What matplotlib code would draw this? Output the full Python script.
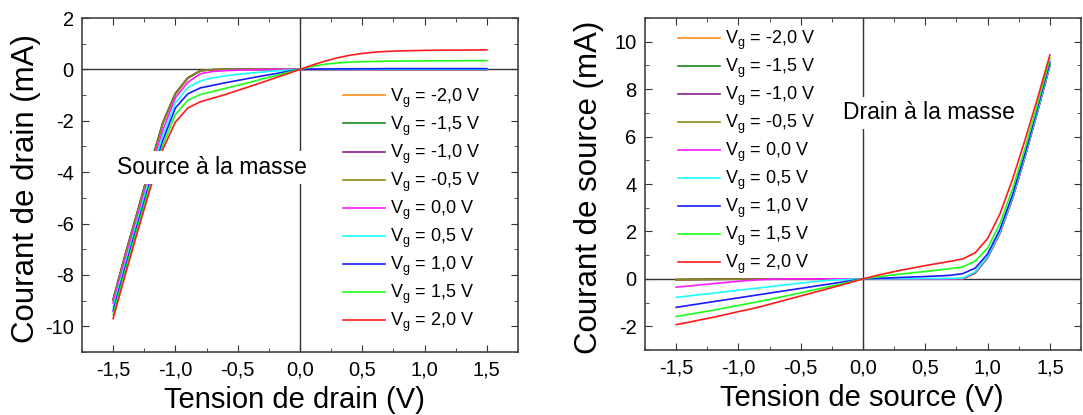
import matplotlib
matplotlib.use('Agg')
import matplotlib.pyplot as plt
from matplotlib.ticker import MultipleLocator, FuncFormatter

plt.rcParams['font.family'] = ['Liberation Sans', 'DejaVu Sans']
plt.rcParams['mathtext.default'] = 'regular'
plt.rcParams['axes.unicode_minus'] = False

tension = [-1.5, -1.4, -1.3, -1.2, -1.1, -1.0, -0.9, -0.8, -0.7, -0.6, -0.5, -0.4, -0.3, -0.2, -0.1, 0.0,
           0.1, 0.2, 0.3, 0.4, 0.5, 0.6, 0.7, 0.8, 0.9, 1.0, 1.1, 1.2, 1.3, 1.4, 1.5]

etiquettes = ['V$_g$ = -2,0 V', 'V$_g$ = -1,5 V', 'V$_g$ = -1,0 V', 'V$_g$ = -0,5 V', 'V$_g$ = 0,0 V',
              'V$_g$ = 0,5 V', 'V$_g$ = 1,0 V', 'V$_g$ = 1,5 V', 'V$_g$ = 2,0 V']
couleurs = ['#FF8A1E', '#1A8A1A', '#8A1A8A', '#8A8A1A', '#FF1AFF', '#1AFFFF', '#1A1AFF', '#1AFF1A', '#FF1A1A']

zeros15 = [0.0] * 15

# Source a la masse : courant de drain (mA)
drain_m20 = [-8.95, -7.15, -5.45, -3.7, -2.05, -0.92, -0.32, -0.05, -0.01, 0, 0, 0, 0, 0, 0, 0] + zeros15
drain_m15 = [-8.95, -7.15, -5.45, -3.7, -2.05, -0.93, -0.33, -0.05, -0.01, 0, 0, 0, 0, 0, 0, 0] + zeros15
drain_m10 = [-8.97, -7.17, -5.47, -3.72, -2.08, -0.95, -0.34, -0.05, -0.01, 0, 0, 0, 0, 0, 0, 0] + zeros15
drain_m05 = [-9.0, -7.2, -5.5, -3.75, -2.1, -0.97, -0.35, -0.06, -0.01, 0, 0, 0, 0, 0, 0, 0] + zeros15
drain_p00 = [-9.1, -7.35, -5.65, -3.95, -2.35, -1.1, -0.5, -0.17, -0.08, -0.05, -0.03, -0.02, -0.01, 0, 0, 0] + zeros15
drain_p05 = [-9.25, -7.5, -5.8, -4.1, -2.55, -1.3, -0.7, -0.45, -0.33, -0.25, -0.19, -0.14, -0.1, -0.06, -0.03, 0,
             0.003, 0.005, 0.005, 0.006, 0.006, 0.007, 0.007, 0.008, 0.008, 0.008, 0.008, 0.008, 0.008, 0.008, 0.008]
drain_p10 = [-9.4, -7.65, -5.95, -4.3, -2.75, -1.5, -0.95, -0.72, -0.62, -0.52, -0.43, -0.34, -0.25, -0.17, -0.08, 0,
             0.01, 0.015, 0.02, 0.02, 0.025, 0.025, 0.03, 0.03, 0.03, 0.03, 0.03, 0.03, 0.03, 0.03, 0.03]
drain_p15 = [-9.55, -7.8, -6.1, -4.45, -2.95, -1.75, -1.2, -0.98, -0.86, -0.74, -0.62, -0.5, -0.37, -0.25, -0.12, 0,
             0.12, 0.2, 0.25, 0.28, 0.3, 0.31, 0.32, 0.325, 0.33, 0.33, 0.335, 0.335, 0.34, 0.34, 0.34]
drain_p20 = [-9.7, -7.95, -6.25, -4.6, -3.1, -2.05, -1.5, -1.26, -1.12, -0.98, -0.82, -0.66, -0.5, -0.33, -0.17, 0,
             0.17, 0.32, 0.45, 0.55, 0.62, 0.67, 0.7, 0.72, 0.73, 0.74, 0.745, 0.75, 0.75, 0.755, 0.76]

# Drain a la masse : courant de source (mA)
pos_bas = [0, 0, 0, 0, 0, 0, 0, 0, 0.25, 0.9, 1.95, 3.4, 5.15, 7.05, 9.0]
source_m20 = [-0.03, -0.025, -0.02, -0.015, -0.01, -0.008, -0.005, -0.003, -0.002, -0.001, 0, 0, 0, 0, 0, 0] + pos_bas
source_m15 = [-0.03, -0.025, -0.02, -0.015, -0.01, -0.008, -0.005, -0.003, -0.002, -0.001, 0, 0, 0, 0, 0, 0] + pos_bas
source_m10 = [-0.035, -0.03, -0.025, -0.02, -0.015, -0.01, -0.006, -0.004, -0.002, -0.001, 0, 0, 0, 0, 0, 0] + pos_bas
source_m05 = [-0.04, -0.035, -0.03, -0.025, -0.02, -0.012, -0.008, -0.005, -0.003, -0.001, 0, 0, 0, 0, 0, 0] + pos_bas
source_p00 = [-0.35, -0.3, -0.25, -0.2, -0.15, -0.1, -0.06, -0.03, -0.01, 0, 0, 0, 0, 0, 0, 0,
              0, 0, 0, 0, 0, 0, 0, 0.01, 0.28, 0.93, 1.98, 3.43, 5.18, 7.08, 9.03]
source_p05 = [-0.78, -0.72, -0.66, -0.6, -0.54, -0.48, -0.42, -0.36, -0.3, -0.24, -0.18, -0.12, -0.07, -0.04, -0.02, 0,
              0.005, 0.01, 0.01, 0.01, 0.015, 0.015, 0.02, 0.03, 0.3, 0.95, 2.0, 3.45, 5.2, 7.1, 9.05]
source_p10 = [-1.2, -1.12, -1.04, -0.96, -0.88, -0.8, -0.72, -0.64, -0.56, -0.48, -0.4, -0.32, -0.24, -0.16, -0.08, 0,
              0.02, 0.04, 0.06, 0.08, 0.1, 0.12, 0.15, 0.22, 0.45, 1.05, 2.1, 3.55, 5.3, 7.2, 9.15]
source_p15 = [-1.59, -1.5, -1.41, -1.32, -1.22, -1.12, -1.02, -0.92, -0.81, -0.7, -0.59, -0.47, -0.36, -0.24, -0.12, 0,
              0.07, 0.14, 0.2, 0.26, 0.31, 0.37, 0.43, 0.5, 0.75, 1.3, 2.35, 3.8, 5.5, 7.35, 9.3]
source_p20 = [-1.93, -1.83, -1.72, -1.62, -1.5, -1.38, -1.27, -1.14, -1.0, -0.86, -0.72, -0.58, -0.44, -0.3, -0.15, 0,
              0.13, 0.25, 0.36, 0.46, 0.56, 0.65, 0.74, 0.84, 1.1, 1.7, 2.75, 4.2, 5.85, 7.6, 9.45]

courbes_drain = [drain_m20, drain_m15, drain_m10, drain_m05, drain_p00, drain_p05, drain_p10, drain_p15, drain_p20]
courbes_source = [source_m20, source_m15, source_m10, source_m05, source_p00, source_p05, source_p10, source_p15, source_p20]

fig = plt.figure(figsize=(10.83, 4.15), dpi=100)
ax1 = fig.add_axes([0.0757, 0.1518, 0.4026, 0.8048])
ax2 = fig.add_axes([0.5956, 0.1566, 0.4026, 0.8000])

virgule_x = FuncFormatter(lambda v, p: f'{v:.1f}'.replace('.', ','))
entier_y = FuncFormatter(lambda v, p: f'{v:.0f}')


def habiller(ax, courbes, ylim, xlabel, ylabel, texte, pos_texte, pos_legende, xlab_x, ylab_y):
    for y, c, lab in zip(courbes, couleurs, etiquettes):
        ax.plot(tension, y, color=c, lw=1.2, label=lab, zorder=2)
    ax.axhline(0, color='#333333', lw=1, zorder=1)
    ax.axvline(0, color='#333333', lw=1, zorder=1)
    ax.set_xlim(-1.75, 1.75)
    ax.set_ylim(*ylim)
    ax.xaxis.set_major_locator(MultipleLocator(0.5))
    ax.xaxis.set_minor_locator(MultipleLocator(0.25))
    ax.yaxis.set_major_locator(MultipleLocator(2))
    ax.yaxis.set_minor_locator(MultipleLocator(1))
    ax.xaxis.set_major_formatter(virgule_x)
    ax.yaxis.set_major_formatter(entier_y)
    ax.tick_params(which='both', direction='in', top=True, right=True, labelsize=14.5,
                   color='#333333', pad=6)
    ax.tick_params(which='major', length=5)
    ax.tick_params(which='minor', length=3)
    for s in ax.spines.values():
        s.set_color('#444444')
        s.set_linewidth(1.2)
    ax.set_xlabel(xlabel, fontsize=21, va='center')
    ax.xaxis.set_label_coords(xlab_x, -0.144)
    ax.set_ylabel(ylabel, fontsize=22.5, va='center')
    ax.yaxis.set_label_coords(-0.128, ylab_y)
    ax.text(pos_texte[0], pos_texte[1], texte, fontsize=16.5, va='center', ha='left', zorder=5,
            bbox=dict(boxstyle='square,pad=0.2', fc='white', ec='none'))
    ax.legend(loc='upper left', bbox_to_anchor=pos_legende, frameon=False, fontsize=13,
              handlelength=2.3, handletextpad=0.3, labelspacing=0.27, borderpad=0, borderaxespad=0)


habiller(ax1, courbes_drain, (-11, 2), 'Tension de drain (V)', 'Courant de drain (mA)',
         'Source à la masse', (-1.465, -3.82), (0.599, 0.795), 0.487, 0.49)
habiller(ax2, courbes_source, (-3, 11), 'Tension de source (V)', 'Courant de source (mA)',
         'Drain à la masse', (-0.16, 7.0), (0.076, 0.968), 0.498, 0.49)

fig.savefig('out.png', dpi=100)
